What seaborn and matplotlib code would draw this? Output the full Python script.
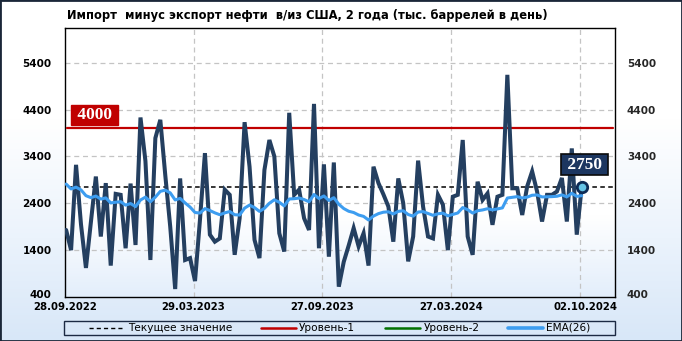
import numpy as np
import pandas as pd
import matplotlib
matplotlib.use("Agg")
import matplotlib.pyplot as plt
import matplotlib.transforms as mtransforms
from matplotlib.colors import LinearSegmentedColormap
from matplotlib.patches import Rectangle
from matplotlib.lines import Line2D
import seaborn as sns

sns.set_theme(style="white")
plt.rcParams["font.family"] = ["DejaVu Sans"]

# ---------------- data ----------------
title = "Импорт  минус экспорт нефти  в/из США, 2 года (тыс. баррелей в день)"
first_date = "2022-09-30"
net_imports = [
    1830, 1400, 3220, 1950, 1020, 2000, 2970, 1690, 2830, 1070,
    2600, 2580, 1440, 2820, 1510, 4230, 3300, 1190, 3790, 4180,
    3000, 1900, 570, 2930, 1190, 1230, 740, 2050, 3470, 1730,
    1580, 1650, 2690, 2580, 1300, 2080, 4130, 3180, 1620, 1230,
    3110, 3750, 3400, 1760, 1370, 4330, 2580, 2690, 2080, 1830,
    4520, 1440, 3230, 1260, 3270, 620, 1150, 1500, 1870, 1480,
    1760, 1070, 3180, 2830, 2590, 2330, 1580, 2930, 2400, 1160,
    1690, 3310, 2330, 1690, 1650, 2580, 2370, 1400, 2540, 2580,
    3750, 1690, 1300, 2860, 2470, 2610, 1940, 2540, 2580, 5140,
    2720, 2720, 2150, 2760, 3080, 2650, 2010, 2580, 2580, 2650,
    2940, 2010, 3570, 1730, 2750,
]
ema_start = 2810          # EMA value at the first shown week (history before the window)
ema_span = 26
level_1 = 4000
current_value = 2750
y_ticks = [400, 1400, 2400, 3400, 4400, 5400]
y_limits = (400, 6150)
axis_start = "2022-09-28"
axis_end = "2024-11-13"
x_tick_dates = ["2022-09-28", "2023-03-29", "2023-09-27", "2024-03-27", "2024-10-02"]
x_tick_labels = ["28.09.2022", "29.03.2023", "27.09.2023", "27.03.2024", "02.10.2024"]
grid_dates = ["2023-03-29", "2023-09-27", "2024-03-27", "2024-09-25"]
legend_labels = ["Текущее значение", "Уровень-1", "Уровень-2", "EMA(26)"]

# ---------------- derived ----------------
dates = pd.date_range(first_date, periods=len(net_imports), freq="7D")
ema = pd.Series([ema_start] + net_imports[1:]).ewm(span=ema_span, adjust=False).mean()
df = pd.DataFrame({"date": dates, "value": net_imports, "ema": ema.values})

C_LINE = "#243f60"
C_EMA = "#3d9df0"
C_RED = "#c00000"
C_GREEN = "#007000"
C_GRID = "#c4c4c4"

W, H = 682, 341
fig = plt.figure(figsize=(W / 100, H / 100), dpi=100)

# figure background gradient
bg = fig.add_axes([0, 0, 1, 1], zorder=-10)
bg_cmap = LinearSegmentedColormap.from_list(
    "bg", [(0, "#d8e7f8"), (0.3, "#ebf3fc"), (0.65, "#ffffff"), (1, "#ffffff")])
bg.imshow(np.linspace(0, 1, 256).reshape(-1, 1), cmap=bg_cmap, aspect="auto",
          origin="lower", extent=[0, 1, 0, 1])
bg.set_xlim(0, 1); bg.set_ylim(0, 1)
bg.axis("off")

L, R, T, B = 64.7, 615.0, 27.5, 297.0
ax = fig.add_axes([L / W, 1 - B / H, (R - L) / W, (B - T) / H])
ax.set_facecolor("white")

# plot-area gradient
pa_cmap = LinearSegmentedColormap.from_list("pa", [(0, "#e3eefb"), (0.3, "#ffffff"), (1, "#ffffff")])
ax.imshow(np.linspace(0, 1, 256).reshape(-1, 1), cmap=pa_cmap, aspect="auto",
          origin="lower", extent=[0, 1, 0, 1], transform=ax.transAxes, zorder=0)

# grids
for yv in y_ticks[1:]:
    ax.axhline(yv, color=C_GRID, lw=0.9, ls=(0, (4, 3)), zorder=1)
for gd in grid_dates:
    ax.axvline(pd.Timestamp(gd), color=C_GRID, lw=0.9, ls=(0, (4, 3)), zorder=1)

# level line and current value
ax.axhline(level_1, xmin=0.004, xmax=0.997, color=C_RED, lw=1.6, zorder=3)
ax.axhline(current_value, xmin=0.006, xmax=0.997, color="black", lw=1.1,
           ls=(0, (3, 2.2)), zorder=3)

sns.lineplot(data=df, x="date", y="value", ax=ax, color=C_LINE, lw=2.9, zorder=4,
             solid_joinstyle="miter")
sns.lineplot(data=df, x="date", y="ema", ax=ax, color=C_EMA, lw=2.2, zorder=5)

ax.plot(df["date"].iloc[-1], net_imports[-1], marker="o", ms=7.5, mfc="#66c4e6",
        mec="#0e2b55", mew=2, zorder=7)

# labels on the chart
ax.annotate(f" {level_1} ", xy=(0.0144, level_1), xycoords=("axes fraction", "data"),
            xytext=(0, 3.8), textcoords="offset points", ha="left", va="bottom",
            fontsize=12.5, fontweight="bold", family="Liberation Serif", color="white",
            bbox=dict(boxstyle="square,pad=0.12", fc=C_RED, ec=C_RED), zorder=8)
ax.annotate(f" {current_value} ", xy=(df["date"].iloc[-1], net_imports[-1]),
            xytext=(2, 10.3), textcoords="offset points", ha="center", va="bottom",
            fontsize=12.5, fontweight="bold", family="Liberation Serif", color="white",
            bbox=dict(boxstyle="square,pad=0.12", fc="#1c3660", ec="#0a0a0a", lw=1.2), zorder=8)

# axes formatting
ax.set_xlim(pd.Timestamp(axis_start), pd.Timestamp(axis_end))
ax.set_ylim(*y_limits)
ax.set_yticks(y_ticks)
ax.set_yticklabels([str(v) for v in y_ticks])
ax.set_xticks([pd.Timestamp(d) for d in x_tick_dates])
ax.set_xticklabels(x_tick_labels)
ax.set_xlabel(""); ax.set_ylabel("")
ax.tick_params(axis="y", length=0, pad=9.4, labelsize=7.5)
ax.tick_params(axis="x", length=0, pad=3.8, labelsize=7.3)
for lab in ax.get_xticklabels() + ax.get_yticklabels():
    lab.set_fontweight("bold")
    lab.set_color("black")
for s in ax.spines.values():
    s.set_color("black"); s.set_linewidth(1.0); s.set_visible(True)

ax2 = ax.twinx()
ax2.set_ylim(*y_limits)
ax2.set_yticks(y_ticks)
ax2.set_yticklabels([str(v) for v in y_ticks])
ax2.tick_params(axis="y", length=0, pad=8.6, labelsize=7.5)
for lab in ax2.get_yticklabels():
    lab.set_fontweight("bold")
for s in ax2.spines.values():
    s.set_visible(False)
ax2.grid(False)

# lift the bottom "400" labels slightly so they clear the date labels
lift = mtransforms.ScaledTranslation(0, 2.5 / 100, fig.dpi_scale_trans)
for a in (ax, ax2):
    lab = a.get_yticklabels()[0]
    lab.set_transform(lab.get_transform() + lift)
    lab.set_va("center_baseline")

# title
fig.text(67 / W, 1 - 15 / H, title, ha="left", va="center", fontsize=8.3,
         fontweight="bold", color="black")

# legend (manual)
ftr = fig.transFigure
def fx(px): return px / W
def fy(py): return 1 - py / H
fig.patches.append(Rectangle((fx(64.3), fy(335)), fx(615) - fx(64.3), fy(321) - fy(335),
                             transform=ftr, fill=False, ec="#1c2a44", lw=1.0))
ly = fy(328)
handles = [
    (89, 122, dict(color="black", lw=1.0, ls=(0, (3, 2.2)))),
    (261, 296, dict(color=C_RED, lw=1.8)),
    (385, 420, dict(color=C_GREEN, lw=1.8)),
    (508, 543, dict(color=C_EMA, lw=2.6)),
]
text_x = [128, 299, 424, 546]
for (x0, x1, kw), tx, lbl in zip(handles, text_x, legend_labels):
    fig.lines.append(Line2D([fx(x0), fx(x1)], [ly, ly], transform=ftr, **kw))
    fig.text(fx(tx), ly, lbl, ha="left", va="center", fontsize=7.6, color="black")

# outer frame
fig.patches.append(Rectangle((0, 0), 1, 1, transform=ftr, fill=False, ec="#1a2638", lw=2))

fig.savefig("out.png", dpi=100)
